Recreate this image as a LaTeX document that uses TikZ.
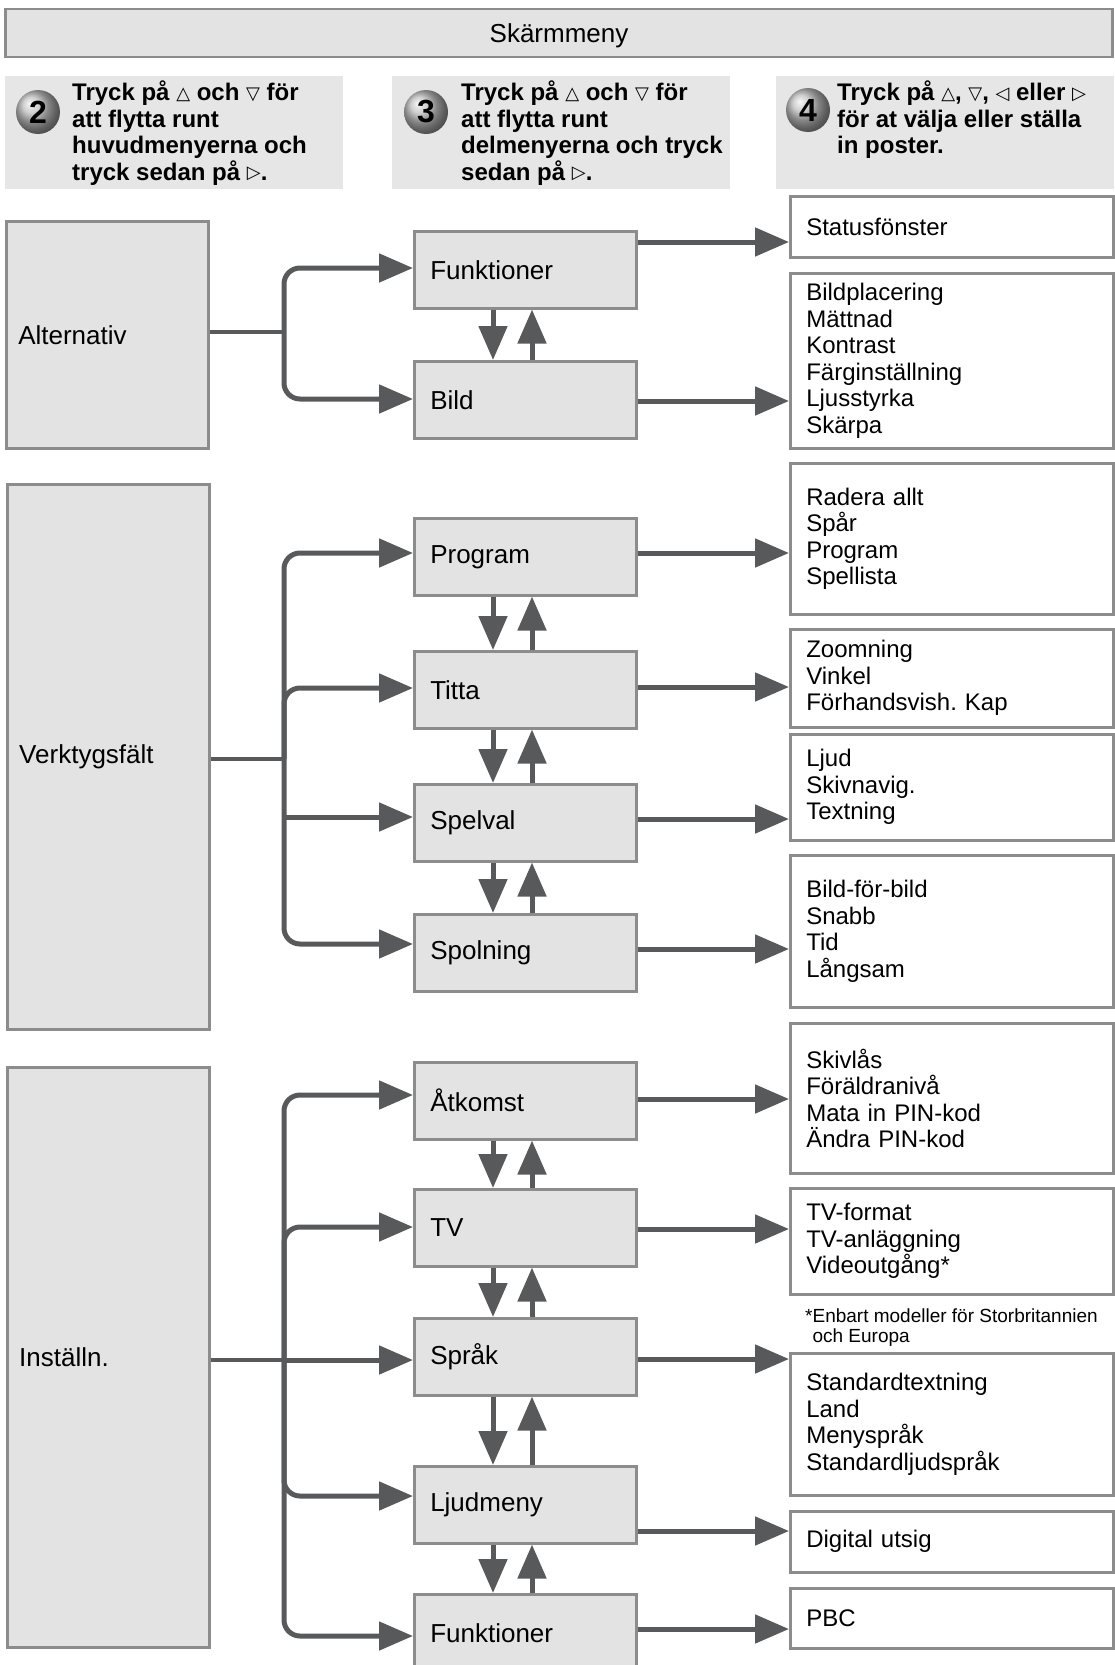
\documentclass[tikz,border=0pt]{standalone}
\usepackage{fontspec}
\setmainfont{Liberation Sans}
\newfontfamily\symfont{DejaVu Sans}
\usetikzlibrary{arrows.meta}
\definecolor{boxfill}{HTML}{E3E3E3}
\definecolor{boxline}{HTML}{8C8C8C}
\definecolor{panelfill}{HTML}{E6E6E6}
\definecolor{arrowcol}{HTML}{58595B}
\newcommand\tri[1]{\raisebox{1.5pt}{\symfont\fontsize{18}{18}\selectfont\mdseries #1}}
\frenchspacing
\begin{document}
\begin{tikzpicture}[x=1pt,y=-1pt,
  greybox/.style={draw=boxline, fill=boxfill, line width=2.5pt, rectangle, inner ysep=0pt},
  lvlone/.style={greybox, anchor=north west, minimum width=202pt, text width=178pt, inner xsep=12pt, align=left, font=\fontsize{26}{30}\selectfont},
  lvltwo/.style={greybox, anchor=north west, minimum width=222pt, minimum height=77pt, text width=190pt, inner xsep=16pt, align=left, font=\fontsize{26}{30}\selectfont},
  itembox/.style={draw=boxline, fill=white, line width=2.5pt, rectangle, inner ysep=0pt, anchor=north west, minimum width=323pt, text width=291pt, inner xsep=16pt, align=left, font=\fontsize{24}{26.5}\selectfont},
  panel/.style={fill=panelfill, anchor=north west, minimum width=338pt, minimum height=113pt, inner sep=0pt},
  paneltext/.style={anchor=west, align=left, inner sep=0pt, font=\bfseries\fontsize{24}{26.5}\selectfont},
  stepball/.style={circle, minimum size=44pt, inner sep=0pt, ball color=gray!50, text=black, font=\bfseries\fontsize{32}{32}\selectfont},
  arr/.style={draw=arrowcol, line width=5pt, -{Triangle[length=34pt,width=28pt]}},
  stemline/.style={draw=arrowcol, line width=4.5pt},
  branch/.style={arr, rounded corners=16pt}
]
\useasboundingbox (0,0) rectangle (1115,1665);

% title
\node[greybox, minimum width=1107pt, minimum height=48pt, text depth=0pt, font=\fontsize{26}{30}\selectfont] (title) at (559,33) {Skärmmeny};

% header panels
\node[panel] (p1) at (5,76) {};
\node[panel] (p2) at (392,76) {};
\node[panel] (p3) at (776,76) {};
\node[stepball] (c2) at (38,112) {2};
\node[stepball] (c3) at (426,112) {3};
\node[stepball] (c4) at (808,110) {4};
\node[paneltext] (t2) at (72,133) {Tryck på \tri{△} och \tri{▽} för\\att flytta runt\\huvudmenyerna och\\tryck sedan på \tri{▷}.};
\node[paneltext] (t3) at (461,133) {Tryck på \tri{△} och \tri{▽} för\\att flytta runt\\delmenyerna och tryck\\sedan på \tri{▷}.};
\node[paneltext] (t4) at (837,120) {Tryck på \tri{△}, \tri{▽}, \tri{◁} eller \tri{▷}\\för at välja eller ställa\\in poster.};

% level one
\node[lvlone, minimum height=227pt] (alt) at (5,220) {Alternativ};
\node[lvlone, minimum height=545pt] (verk) at (6,483) {Verktygsfält};
\node[lvlone, minimum height=580pt] (inst) at (6,1066) {Inställn.};

% level two
\node[lvltwo] (f1) at (413,230) {Funktioner};
\node[lvltwo] (bild) at (413,360) {Bild};
\node[lvltwo] (prog) at (413,517) {Program};
\node[lvltwo] (titta) at (413,650) {Titta};
\node[lvltwo] (spel) at (413,783) {Spelval};
\node[lvltwo] (spol) at (413,913) {Spolning};
\node[lvltwo] (atk) at (413,1061) {Åtkomst};
\node[lvltwo] (tv) at (413,1188) {TV};
\node[lvltwo] (sprak) at (413,1317) {Språk};
\node[lvltwo] (ljud) at (413,1465) {Ljudmeny};
\node[lvltwo] (f2) at (413,1593) {Funktioner};

% right items
\node[itembox, minimum height=61pt] (r1) at (789,195) {Statusfönster};
\node[itembox, minimum height=175pt] (r2) at (789,272) {Bildplacering\\Mättnad\\Kontrast\\Färginställning\\Ljusstyrka\\Skärpa};
\node[itembox, minimum height=151pt] (r3) at (789,462) {Radera allt\\Spår\\Program\\Spellista};
\node[itembox, minimum height=98pt] (r4) at (789,628) {Zoomning\\Vinkel\\Förhandsvish. Kap};
\node[itembox, minimum height=106pt] (r5) at (789,733) {Ljud\\Skivnavig.\\Textning};
\node[itembox, minimum height=152pt] (r6) at (789,854) {Bild-för-bild\\Snabb\\Tid\\Långsam};
\node[itembox, minimum height=150pt] (r7) at (789,1022) {Skivlås\\Föräldranivå\\Mata in PIN-kod\\Ändra PIN-kod};
\node[itembox, minimum height=106pt] (r8) at (789,1187) {TV-format\\TV-anläggning\\Videoutgång*};
\node[itembox, minimum height=142pt] (r9) at (789,1352) {Standardtextning\\Land\\Menyspråk\\Standardljudspråk};
\node[itembox, minimum height=61pt] (r10) at (789,1510) {Digital utsig};
\node[itembox, minimum height=60pt] (r11) at (789,1587) {PBC};
\node[anchor=west, align=left, inner sep=0pt, font=\fontsize{19}{20}\selectfont] (fn) at (805,1328) {*Enbart modeller för Storbritannien\\\phantom{*}och Europa};

% trunk x and vertical arrow x
\coordinate (tx) at (284,0);
\coordinate (xd) at (493,0);
\coordinate (xu) at (532,0);

% Alternativ
\draw[stemline] (alt.east |- 0,332) -- (tx |- 0,332);
\draw[branch] (tx |- 0,332) -- (tx |- 0,268) -- (f1.west |- 0,268);
\draw[branch] (tx |- 0,332) -- (tx |- 0,399) -- (bild.west |- 0,399);

% Verktygsfalt
\draw[stemline] (verk.east |- 0,759) -- (tx |- 0,759);
\draw[branch] (tx |- 0,759) -- (tx |- 0,553) -- (prog.west |- 0,553);
\draw[branch] (tx |- 0,759) -- (tx |- 0,688) -- (titta.west |- 0,688);
\draw[branch] (tx |- 0,759) -- (tx |- 0,944) -- (spol.west |- 0,944);
\draw[arr] (tx |- 0,817) -- (spel.west |- 0,817);

% Installn
\draw[stemline] (inst.east |- 0,1360) -- (tx |- 0,1360);
\draw[arr] (tx |- 0,1360) -- (sprak.west |- 0,1360);
\draw[branch] (tx |- 0,1360) -- (tx |- 0,1095) -- (atk.west |- 0,1095);
\draw[branch] (tx |- 0,1360) -- (tx |- 0,1227) -- (tv.west |- 0,1227);
\draw[branch] (tx |- 0,1360) -- (tx |- 0,1496) -- (ljud.west |- 0,1496);
\draw[branch] (tx |- 0,1360) -- (tx |- 0,1636) -- (f2.west |- 0,1636);

% vertical pairs
\foreach \a/\b in {f1/bild, prog/titta, titta/spel, spel/spol, atk/tv, tv/sprak, sprak/ljud, ljud/f2}{
  \draw[arr] (xd |- \a.south) -- (xd |- \b.north);
  \draw[arr] (xu |- \b.north) -- (xu |- \a.south);
}

% to items
\draw[arr] (f1.east |- 0,242) -- (r1.west |- 0,242);
\draw[arr] (bild.east |- 0,401) -- (r2.west |- 0,401);
\draw[arr] (prog.east |- 0,553) -- (r3.west |- 0,553);
\draw[arr] (titta.east |- 0,687) -- (r4.west |- 0,687);
\draw[arr] (spel.east |- 0,819) -- (r5.west |- 0,819);
\draw[arr] (spol.east |- 0,949) -- (r6.west |- 0,949);
\draw[arr] (atk.east |- 0,1099) -- (r7.west |- 0,1099);
\draw[arr] (tv.east |- 0,1229) -- (r8.west |- 0,1229);
\draw[arr] (sprak.east |- 0,1359) -- (r9.west |- 0,1359);
\draw[arr] (ljud.east |- 0,1531) -- (r10.west |- 0,1531);
\draw[arr] (f2.east |- 0,1629) -- (r11.west |- 0,1629);
\end{tikzpicture}
\end{document}
